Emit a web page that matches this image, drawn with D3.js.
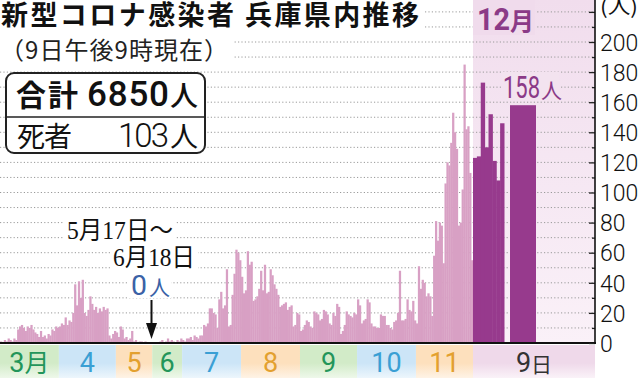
<!DOCTYPE html>
<html><head><meta charset="utf-8">
<script src="https://cdn.jsdelivr.net/npm/d3@7"></script>
<style>body{margin:0;background:#fff}svg{display:block}</style>
</head><body>
<svg id="c" width="640" height="378"></svg>
<script>
// ---- data (daily new cases, Hyogo, 2020) ----
const mar = [1,0,2,1,3,2,1,3,2, 9,11,12,10,8,11,10,12,9, 7,6, 4,8,4, 5,3,6,5, 9,8,11,10];
const apr = [11,13,12,17,12,15,14,20,39,25,41,30,42,20,18,22,31,26,22,24,20,23,21,24,22,23,5,3,6,8];
const may = [7,4,11,9,3,4,2,3,8,1,2,0,1,1,0,1, 0,0,0,0,0,0,0,0,0,0,0,0,0,0,0];
const jun = [0,0,0,0,0,0,0,0,0,0,0,0,0,0,0,0,0,0, 1,2,0,1,3,1,2,1,0,2,1,3];
const jul = [2,1,3,3,4,2,5,4,3,5,5,12,11,13,23,23,20,19,10,29,34,23,25,49,11,12,32,46,62,60,55];
const aug = [44,33,35,61,52,54,28,29,31,36,48,35,52,33,34,49,45,39,36,32,24,25,26,27,22,24,25,11,12,20,19];
const sep = [8,9,12,15,14,11,10,21,20,19,15,16,22,21,19,13,12,20,18,26,24,6,8,12,21,19,18,17,20,19];
const oct = [29,25,13,15,16,29,27,13,11,11,10,10,19,18,18,12,12,10,9,14,15,20,48,15,15,16,29,22,21,28,15];
const nov = [13,51,36,42,40,31,33,31,18,58,81,68,80,78,53,106,120,118,133,153,140,129,78,80,102,185,142,144,113,55];
const dec = [123,124,173,130,152,121,108,146];   // Dec 1-8
const today = 158;                               // Dec 9
const monthLabels = ["3月","4","5","6","7","8","9","10","11"];
const yTicks = [0,20,40,60,80,100,120,140,160,180,200,220];
const totalCases = "6850";
const totalDeaths = "103";

// ---- build series ----
const monthArrays = [mar,apr,may,jun,jul,aug,sep,oct,nov];
const daily = [];
monthArrays.forEach((arr, mi) => arr.forEach((v, i) => daily.push({date: new Date(2020, 2 + mi, i + 1), v})));

const svg = d3.select("#c");
const W = 640, H = 378;
const axisX = 595, baseY = 343;
const CJK = "'Noto Sans CJK JP','Noto Sans CJK SC',sans-serif";
const NUM = "Roboto,'Liberation Sans',sans-serif";

// x: time scale, zero stretch (May 17 - Jun 18) compressed
const x = d3.scaleTime()
  .domain([new Date(2020,2,1), new Date(2020,4,17), new Date(2020,5,19), new Date(2020,11,1)])
  .range([0, 146.3, 159.3, 473]);
const xDec = d3.scaleLinear().domain([1, 9]).range([473, 504]);
const y = d3.scaleLinear().domain([0, 220]).range([baseY, 11.9]);

const defs = svg.append("defs");
function vgrad(id, stops){
  const g = defs.append("linearGradient").attr("id", id).attr("x1",0).attr("y1",0).attr("x2",0).attr("y2",1);
  stops.forEach(s => g.append("stop").attr("offset", s[0]).attr("stop-color", s[1]));
}
vgrad("decbg", [[0,"#f1dded"],[1,"#faf1f8"]]);
const bandCols = {g:["#d2ebc8","#eef8ea"], b:["#cce5f7","#edf6fc"], o:["#fde0bd","#fef3e6"], d:["#efd9ea","#faf2f8"]};
Object.entries(bandCols).forEach(([k,c]) => vgrad("band"+k, [[0,c[0]],[0.55,c[0]],[1,c[1]]]));

svg.append("rect").attr("width",W).attr("height",H).attr("fill","#fff");

// December background
const decX0 = x(new Date(2020,11,1));
svg.append("rect").attr("x", decX0).attr("y", 0).attr("width", axisX - decX0).attr("height", baseY)
  .attr("fill","url(#decbg)");

// bottom month bands
const bandKinds = ["g","b","o"];
const labelCols = {g:"#23955a", b:"#3a9fd4", o:"#e3a02f"};
const bands = monthLabels.map((lab, i) => {
  const x0 = x(new Date(2020, 2+i, 1)), x1 = x(new Date(2020, 3+i, 1));
  return {lab, x0, x1, k: bandKinds[i % 3]};
});
svg.selectAll("rect.band").data(bands).join("rect").attr("class","band")
  .attr("x", d => d.x0).attr("y", baseY + 2).attr("width", d => d.x1 - d.x0).attr("height", H - baseY - 2)
  .attr("fill", d => `url(#band${d.k})`);
svg.append("rect").attr("x", decX0).attr("y", baseY + 2).attr("width", axisX - decX0).attr("height", H - baseY - 2)
  .attr("fill","url(#bandd)");

// gridlines
svg.append("g").selectAll("line").data(d3.range(10, 221, 10)).join("line")
  .attr("x1", 0).attr("x2", axisX).attr("y1", d => y(d)).attr("y2", d => y(d))
  .attr("stroke", "#9a9a9a").attr("stroke-width", 1).attr("stroke-dasharray", "1.2,2.2");

// pink daily bars
svg.append("g").selectAll("rect").data(daily.filter(d => d.v > 0)).join("rect")
  .attr("x", d => x(d.date))
  .attr("width", d => x(d3.timeDay.offset(d.date, 1)) - x(d.date) + 0.35)
  .attr("y", d => y(d.v)).attr("height", d => baseY - y(d.v))
  .attr("fill", "#d8a0c4");

// December bars
const darkCol = "#973a8d";
svg.append("g").selectAll("rect").data(dec).join("rect")
  .attr("x", (d,i) => xDec(i+1)).attr("width", (d,i) => xDec(i+2) - xDec(i+1) + 0.5)
  .attr("y", d => y(d)).attr("height", d => baseY - y(d)).attr("fill", darkCol);
svg.append("rect").attr("x", 510).attr("width", 26).attr("y", y(today)).attr("height", baseY - y(today)).attr("fill", darkCol);

// baseline
svg.append("line").attr("x1", 0).attr("x2", axisX + 1).attr("y1", baseY).attr("y2", baseY)
  .attr("stroke", "#111").attr("stroke-width", 2);

// right axis
const ax = svg.append("g").attr("transform", `translate(${axisX},0)`)
  .call(d3.axisRight(y).tickValues(yTicks).tickSize(-6).tickSizeOuter(0).tickPadding(5)
        .tickFormat(d => d === 220 ? "" : d));
ax.select(".domain").remove();
ax.selectAll("line").attr("stroke", "#222").attr("stroke-width", 1.3);
ax.selectAll("text").attr("font-family", NUM).attr("font-weight", 300).attr("font-size", 23).attr("fill", "#111")
  .attr("dy", "0.36em");
const ax2 = svg.append("g").attr("transform", `translate(${axisX},0)`)
  .call(d3.axisRight(y).tickValues(d3.range(10, 220, 20)).tickSize(-3).tickSizeOuter(0).tickFormat(""));
ax2.select(".domain").remove();
ax2.selectAll("line").attr("stroke", "#222").attr("stroke-width", 1.3);
svg.append("line").attr("x1", axisX).attr("x2", axisX).attr("y1", 0).attr("y2", baseY + 1)
  .attr("stroke", "#111").attr("stroke-width", 1.6);
svg.append("text").attr("x", 600).attr("y", 14).attr("font-family", CJK).attr("font-size", 20).attr("fill", "#111")
  .attr("textLength", 38).attr("lengthAdjust", "spacingAndGlyphs").text("(人)");

// month labels
const ml = svg.append("g");
bands.forEach(b => {
  const t = ml.append("text").attr("x", (b.x0 + b.x1) / 2).attr("y", 372).attr("text-anchor", "middle")
    .attr("fill", labelCols[b.k]).attr("font-family", NUM).attr("font-size", 27);
  const num = b.lab.replace("月", "");
  t.append("tspan").text(num);
  if (b.lab.includes("月")) t.append("tspan").attr("font-family", CJK).attr("font-size", 25).text("月");
});
const t9 = svg.append("text").attr("x", (decX0 + axisX) / 2).attr("y", 372).attr("text-anchor", "middle")
  .attr("fill", "#333").attr("font-family", NUM).attr("font-size", 27);
t9.append("tspan").text("9");
t9.append("tspan").attr("font-family", CJK).attr("font-size", 21).text("日");

// title with white mask
svg.append("rect").attr("x", 0).attr("y", 0).attr("width", 423).attr("height", 31).attr("fill", "#fff");
svg.append("rect").attr("x", 0).attr("y", 31).attr("width", 233).attr("height", 34).attr("fill", "#fff");
svg.append("text").attr("x", 1).attr("y", 25).attr("font-family", CJK).attr("font-weight", 700).attr("font-size", 27)
  .attr("fill", "#111").attr("textLength", 233).text("新型コロナ感染者");
svg.append("text").attr("x", 245).attr("y", 25).attr("font-family", CJK).attr("font-weight", 700).attr("font-size", 27)
  .attr("fill", "#111").attr("textLength", 174).text("兵庫県内推移");
svg.append("text").attr("x", 0).attr("y", 59).attr("font-family", CJK).attr("font-size", 24)
  .attr("fill", "#222").attr("textLength", 228).text("（9日午後9時現在）");

// summary box
svg.append("rect").attr("x", 6).attr("y", 73).attr("width", 199).attr("height", 80).attr("rx", 8)
  .attr("fill", "#fff").attr("stroke", "#222").attr("stroke-width", 2);
svg.append("line").attr("x1", 6).attr("x2", 205).attr("y1", 117).attr("y2", 117).attr("stroke", "#222").attr("stroke-width", 1.6);
const r1 = svg.append("text").attr("y", 106).attr("fill", "#111");
r1.append("tspan").attr("x", 16).attr("font-family", CJK).attr("font-weight", 700).attr("font-size", 30)
  .attr("textLength", 62).text("合計");
r1.append("tspan").attr("x", 87).attr("font-family", NUM).attr("font-weight", 500).attr("font-size", 35)
  .attr("textLength", 82).text(totalCases);
r1.append("tspan").attr("x", 170).attr("font-family", CJK).attr("font-weight", 500).attr("font-size", 28).text("人");
const r2 = svg.append("text").attr("y", 147).attr("fill", "#111");
r2.append("tspan").attr("x", 17).attr("font-family", CJK).attr("font-weight", 400).attr("font-size", 28)
  .attr("textLength", 55).text("死者");
r2.append("tspan").attr("x", 118).attr("font-family", NUM).attr("font-weight", 300).attr("font-size", 33)
  .attr("textLength", 51).text(totalDeaths);
r2.append("tspan").attr("x", 170).attr("font-family", CJK).attr("font-weight", 400).attr("font-size", 28).text("人");

// 12月 label (condensed-tall digits via transform)
svg.append("rect").attr("x", decX0).attr("y", 0).attr("width", 62).attr("height", 35).attr("fill", "#f0dbec");
svg.append("text").attr("transform", "translate(477,30) scale(1.2,1.3)").attr("fill", "#8b3a87").attr("font-weight", 700)
  .attr("font-family", NUM).attr("font-size", 24).text("12");
svg.append("text").attr("x", 510).attr("y", 30).attr("fill", "#8b3a87").attr("font-weight", 700)
  .attr("font-family", CJK).attr("font-size", 24).text("月");

// today label
svg.append("rect").attr("x", 502).attr("y", 72).attr("width", 57).attr("height", 28).attr("fill", "#f3e3ef");
svg.append("text").attr("transform", "translate(503,98) scale(1,1.4)").attr("fill", "#8b3a87")
  .attr("font-family", NUM).attr("font-size", 22).text(String(today));
svg.append("text").attr("x", 541).attr("y", 98).attr("fill", "#8b3a87")
  .attr("font-family", CJK).attr("font-size", 21).text("人");

// zero-period annotation
const serif = "'Liberation Serif','DejaVu Serif','Noto Sans CJK JP',serif";
svg.append("rect").attr("x", 64).attr("y", 216).attr("width", 112).attr("height", 28).attr("fill", "#fff");
svg.append("rect").attr("x", 110).attr("y", 244).attr("width", 88).attr("height", 27).attr("fill", "#fff");
svg.append("rect").attr("x", 129).attr("y", 272).attr("width", 42).attr("height", 26).attr("fill", "#fff");
svg.append("text").attr("x", 67).attr("y", 239).attr("font-family", serif).attr("font-size", 25).attr("fill", "#111")
  .attr("textLength", 106).attr("lengthAdjust", "spacingAndGlyphs").text("5月17日〜");
svg.append("text").attr("x", 113).attr("y", 266).attr("font-family", serif).attr("font-size", 25).attr("fill", "#111")
  .attr("textLength", 82).attr("lengthAdjust", "spacingAndGlyphs").text("6月18日");
svg.append("text").attr("x", 131).attr("y", 295).attr("fill", "#3a62a6")
  .attr("font-family", NUM).attr("font-size", 28).attr("textLength", 16).attr("lengthAdjust","spacingAndGlyphs").text("0");
svg.append("text").attr("x", 149).attr("y", 295).attr("fill", "#3a62a6")
  .attr("font-family", CJK).attr("font-size", 21).text("人");
const arrowX = 151.5;
svg.append("line").attr("x1", arrowX).attr("x2", arrowX).attr("y1", 300).attr("y2", 326).attr("stroke", "#111").attr("stroke-width", 2);
svg.append("path").attr("d", `M${arrowX-5.5},323 L${arrowX+5.5},323 L${arrowX},339 Z`).attr("fill", "#111");
</script>
</body></html>
